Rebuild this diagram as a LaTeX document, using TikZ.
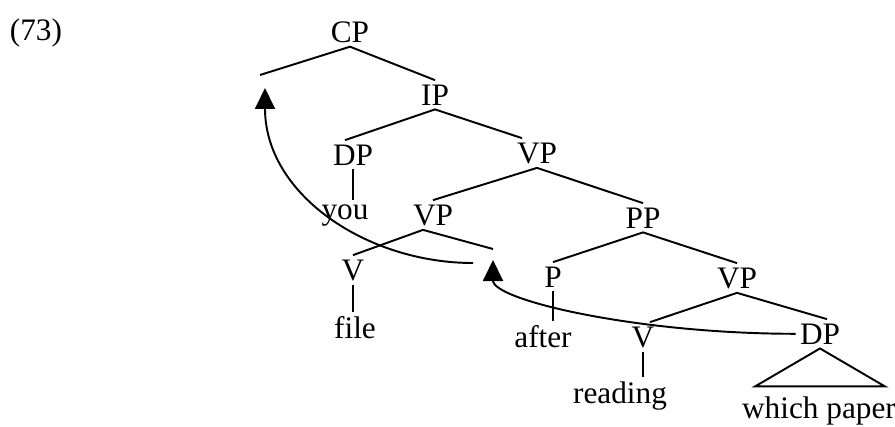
\documentclass[tikz,border=0pt]{standalone}
\usepackage{fontspec}
\setmainfont{Liberation Serif}
\usetikzlibrary{arrows.meta}
\begin{document}
\begin{tikzpicture}[x=0.02cm,y=-0.02cm,
  cat/.style={inner sep=0pt,outer sep=2.5pt,anchor=base,font=\fontsize{17.8}{21}\selectfont},
  branch/.style={line width=1.1pt},
  move/.style={line width=1.1pt,-{Triangle[length=0.42cm,width=0.4cm]}}]
\useasboundingbox (0,0) rectangle (895,426);
\node[cat] (num) at (36,40) {(73)};
% the categories
\node[cat] (cp) at (350,42) {CP};
\node[cat] (ip) at (435,105) {IP};
\node[cat] (dp) at (353,165) {DP};
\node[cat] (vp1) at (537,163) {VP};
\node[cat] (you) at (345,219) {you};
\node[cat] (vp2) at (433,225) {VP};
\node[cat] (pp) at (643,228) {PP};
\node[cat] (v1) at (353,280) {V};
\node[cat] (p) at (553,287) {P};
\node[cat] (vp3) at (737,288) {VP};
\node[cat] (file) at (355,338) {file};
\node[cat] (after) at (543,347) {after};
\node[cat] (v2) at (643,347) {V};
\node[cat] (dp2) at (820,344) {DP};
\node[cat] (reading) at (620,403) {reading};
\node[cat] (whichpaper) at (819,418) {which paper};
% empty positions
\coordinate (spec) at (260,75);
\coordinate (spectip) at (265,88);
\coordinate (trace) at (493,249);
\coordinate (tracetip) at (493,260);
\coordinate (tracefoot) at (473,263);
% branches
\draw[branch] (spec) -- (cp.south) -- (ip.north);
\draw[branch] ([xshift=-0.16cm]dp.north) -- (ip.south) -- ([xshift=-0.3cm]vp1.north);
\draw[branch] (vp2.north) -- (vp1.south) -- (pp.north);
\draw[branch] (v1.north) -- ([xshift=-0.2cm]vp2.south) -- (trace);
\draw[branch] (p.north) -- (pp.south) -- (vp3.north);
\draw[branch] ([xshift=0.14cm]v2.north) -- (vp3.south) -- ([xshift=0.14cm]dp2.north);
\draw[branch] (dp.south) -- (dp.south |- you.north);
\draw[branch] (v1.south) -- (v1.south |- file.north);
\draw[branch] (p.south) -- (p.south |- after.north);
\draw[branch] (v2.south) -- (v2.south |- reading.north);
\draw[branch] (dp2.south) -- ++(-65,38) -- ++(130,0) -- cycle;
% movement
\draw[move] (tracefoot) to[out=180,in=-90] (spectip);
\draw[move] (dp2.west) to[out=180,in=-90,out looseness=1.3,in looseness=0.33] (tracetip);
\end{tikzpicture}
\end{document}
